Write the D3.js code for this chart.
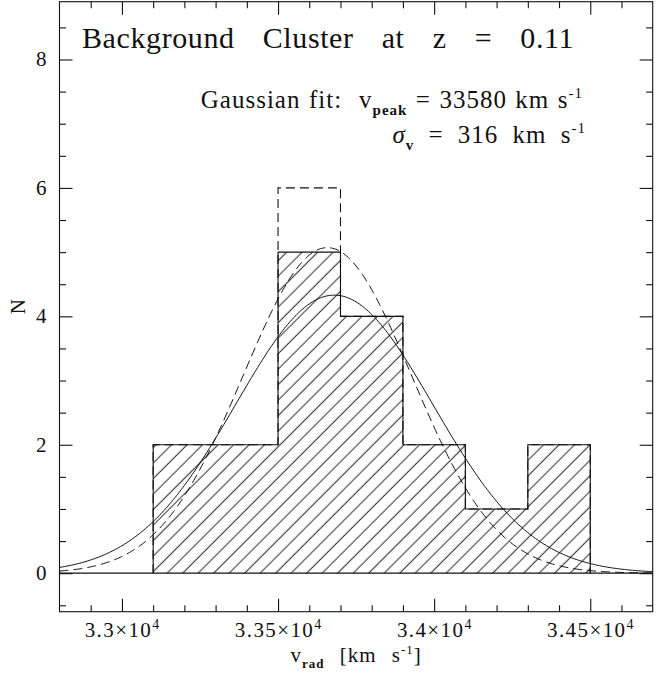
<!DOCTYPE html>
<html>
<head>
<meta charset="utf-8">
<script src="https://cdn.jsdelivr.net/npm/d3@7"></script>
<style>
  html, body { margin: 0; padding: 0; background: #fff; }
  svg { display: block; }
</style>
</head>
<body>
<svg id="chart" width="664" height="675"></svg>
<script>
// Velocity histogram: lower bin edges (km/s), common bin width, counts
const binStarts = [33100, 33300, 33500, 33700, 33900, 34100, 34300];
const binWidth = 200;
const countsMain = [2, 2, 5, 4, 2, 1, 2];
const countsAlt = [2, 2, 6, 4, 2, 1, 2];

// Gaussian fits: centre, dispersion, amplitude
const fitMain = [33580, 316, 4.33];
const fitAlt = [33558, 270, 5.07];

// Axis ranges and ticks
const xDomain = [32800, 34700];
const yDomain = [-0.6, 8.9];
const xMajor = [33000, 33500, 34000, 34500];
const xMajorLabels = ["3.3", "3.35", "3.4", "3.45"];
const yMajor = [0, 2, 4, 6, 8];
const yMajorLabels = ["0", "2", "4", "6", "8"];

const FONT = "Liberation Serif";
const svg = d3.select("#chart");
const plotL = 59.5, plotR = 652.7, plotT = 1.7, plotB = 611.7;
const ink = "#111";

const x = d3.scaleLinear().domain(xDomain).range([plotL, plotR]);
const y = d3.scaleLinear().domain(yDomain).range([plotB, plotT]);

// 45-degree hatching for the main histogram
const hatchStep = 15.5;              // horizontal distance between hatch lines
const hatchGap = hatchStep / Math.SQRT2;
const defs = svg.append("defs");
const pat = defs.append("pattern")
  .attr("id", "hatch")
  .attr("patternUnits", "userSpaceOnUse")
  .attr("width", hatchGap)
  .attr("height", hatchGap)
  .attr("patternTransform", "rotate(45)");
pat.append("line")
  .attr("x1", 8.3).attr("x2", 8.3)
  .attr("y1", -2).attr("y2", hatchGap + 2)
  .attr("stroke", ink).attr("stroke-width", 0.9);

defs.append("clipPath").attr("id", "plotClip")
  .append("rect")
  .attr("x", plotL).attr("y", plotT)
  .attr("width", plotR - plotL).attr("height", plotB - plotT);

// outline of a step histogram
function stepPoints(counts) {
  const pts = [[binStarts[0], 0]];
  counts.forEach((c, i) => {
    pts.push([binStarts[i], c]);
    pts.push([binStarts[i] + binWidth, c]);
  });
  pts.push([binStarts[binStarts.length - 1] + binWidth, 0]);
  return pts;
}
const line = d3.line().x(d => x(d[0])).y(d => y(d[1]));

const plot = svg.append("g").attr("clip-path", "url(#plotClip)");

// hatched area
plot.append("path")
  .attr("d", line(stepPoints(countsMain)) + "Z")
  .attr("fill", "url(#hatch)")
  .attr("stroke", "none");

// second sample, dashed outline
plot.append("path")
  .attr("d", line(stepPoints(countsAlt)))
  .attr("fill", "none")
  .attr("stroke", ink)
  .attr("stroke-width", 1.1)
  .attr("stroke-dasharray", "9,5");

// main sample, solid outline
plot.append("path")
  .attr("d", line(stepPoints(countsMain)))
  .attr("fill", "none")
  .attr("stroke", ink)
  .attr("stroke-width", 1.1);

// zero level
plot.append("line")
  .attr("x1", x(xDomain[0])).attr("x2", x(xDomain[1]))
  .attr("y1", y(0)).attr("y2", y(0))
  .attr("stroke", ink).attr("stroke-width", 1.1);

// Gaussian curves, evaluated on bin centres (half-bin shift)
function gaussPoints(fit) {
  const [mu, sigma, amp] = fit;
  const c = mu + binWidth / 2;
  return d3.range(xDomain[0], xDomain[1] + 1, 5).map(v =>
    [v, amp * Math.exp(-0.5 * ((v - c) / sigma) ** 2)]);
}
plot.append("path")
  .attr("d", line(gaussPoints(fitAlt)))
  .attr("fill", "none")
  .attr("stroke", ink)
  .attr("stroke-width", 1)
  .attr("stroke-dasharray", "9,5");
plot.append("path")
  .attr("d", line(gaussPoints(fitMain)))
  .attr("fill", "none")
  .attr("stroke", ink)
  .attr("stroke-width", 1);

// frame with inward ticks on all four sides
const xMinor = d3.range(32900, 34700, 100).filter(v => !xMajor.includes(v));
const yMinor = d3.range(-0.5, 8.9, 0.5).filter(v => !yMajor.includes(v));
const axisDefs = [
  [d3.axisBottom, x, `translate(0,${plotB})`, xMajor, xMinor],
  [d3.axisTop, x, `translate(0,${plotT})`, xMajor, xMinor],
  [d3.axisLeft, y, `translate(${plotL},0)`, yMajor, yMinor],
  [d3.axisRight, y, `translate(${plotR},0)`, yMajor, yMinor]
];
axisDefs.forEach(([fn, sc, tr, maj, min]) => {
  [[maj, 13], [min, 6.5]].forEach(([vals, len]) => {
    svg.append("g")
      .attr("transform", tr)
      .attr("color", ink)
      .call(fn(sc).tickValues(vals).tickSize(-len).tickFormat(""))
      .call(g => g.select(".domain").remove())
      .call(g => g.selectAll(".tick line").attr("stroke-width", 1.1));
  });
});

svg.append("rect")
  .attr("x", plotL).attr("y", plotT)
  .attr("width", plotR - plotL).attr("height", plotB - plotT)
  .attr("fill", "none").attr("stroke", ink).attr("stroke-width", 1.1);

// x tick labels  a×10^4
const xl = svg.append("g")
  .attr("fill", ink).attr("font-family", FONT)
  .attr("font-size", 21).attr("letter-spacing", 1.4);
xMajor.forEach((v, i) => {
  const t = xl.append("text")
    .attr("x", x(v) + 0.7).attr("y", 637.3)
    .attr("text-anchor", "middle");
  t.append("tspan").text(xMajorLabels[i] + "×10");
  t.append("tspan").attr("font-size", 14).attr("dy", -8).text("4");
});

// y tick labels
const yl = svg.append("g")
  .attr("fill", ink).attr("font-family", FONT).attr("font-size", 21);
yMajor.forEach((v, i) => {
  yl.append("text")
    .attr("x", 46.5).attr("y", y(v) + 7)
    .attr("text-anchor", "end")
    .text(yMajorLabels[i]);
});

// axis titles
const xt = svg.append("text")
  .attr("x", (plotL + plotR) / 2).attr("y", 662)
  .attr("text-anchor", "middle")
  .attr("font-family", FONT).attr("font-size", 21).attr("fill", ink)
  .attr("letter-spacing", 1).attr("word-spacing", 9);
xt.append("tspan").text("v");
xt.append("tspan").attr("font-size", 13).attr("font-weight", "bold").attr("dy", 6).text("rad");
xt.append("tspan").attr("dy", -6).text(" [km s");
xt.append("tspan").attr("font-size", 13).attr("dy", -8).text("-1");
xt.append("tspan").attr("dy", 8).text("]");

svg.append("text")
  .attr("transform", `translate(25,${(plotT + plotB) / 2}) rotate(-90)`)
  .attr("text-anchor", "middle")
  .attr("font-family", FONT).attr("font-size", 21).attr("fill", ink)
  .text("N");

// annotations
svg.append("text")
  .attr("x", 82).attr("y", 48.3)
  .attr("font-family", FONT).attr("font-size", 30).attr("fill", ink)
  .attr("letter-spacing", 0.6).attr("word-spacing", 20)
  .text("Background Cluster at z = 0.11");

const g1 = svg.append("text")
  .attr("x", 583).attr("y", 108.3)
  .attr("text-anchor", "end")
  .attr("font-family", FONT).attr("font-size", 25).attr("fill", ink)
  .attr("letter-spacing", 1).attr("word-spacing", 1.2);
g1.append("tspan").text("Gaussian fit:");
g1.append("tspan").attr("dx", 17).text("v");
g1.append("tspan").attr("font-size", 15).attr("font-weight", "bold").attr("dy", 7).text("peak");
g1.append("tspan").attr("dy", -7).text(` = ${fitMain[0]} km s`);
g1.append("tspan").attr("font-size", 15).attr("dy", -10).text("-1");

const g2 = svg.append("text")
  .attr("x", 586).attr("y", 143.3)
  .attr("text-anchor", "end")
  .attr("font-family", FONT).attr("font-size", 25).attr("fill", ink)
  .attr("letter-spacing", 1).attr("word-spacing", 7);
g2.append("tspan").attr("font-style", "italic").text("σ");
g2.append("tspan").attr("font-size", 15).attr("font-weight", "bold").attr("dy", 7).text("v");
g2.append("tspan").attr("dy", -7).text(` = ${fitMain[1]} km s`);
g2.append("tspan").attr("font-size", 15).attr("dy", -10).text("-1");
</script>
</body>
</html>
